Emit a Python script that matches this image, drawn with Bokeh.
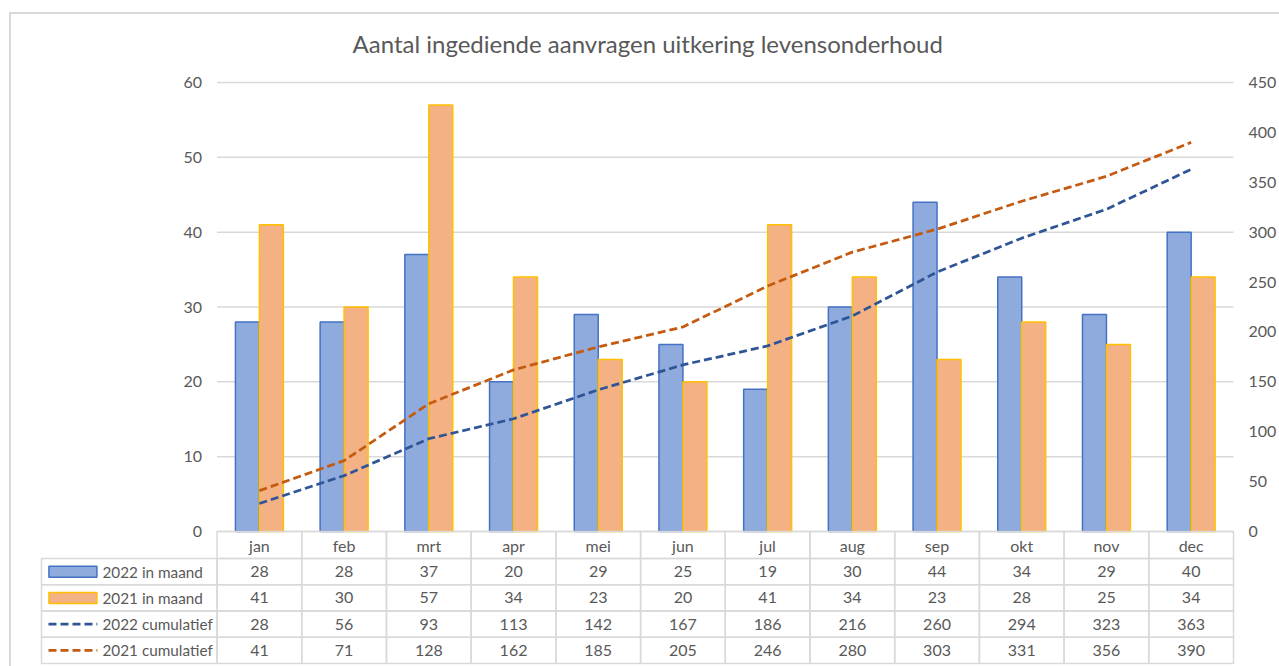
from bokeh.plotting import figure
from bokeh.models import Range1d, LinearAxis, FixedTicker, ColumnDataSource, InlineStyleSheet
from bokeh.transform import dodge
from bokeh.embed import file_html
from bokeh.resources import INLINE
from bokeh.core.properties import value

# ---------------- data ----------------
months = ["jan", "feb", "mrt", "apr", "mei", "jun", "jul", "aug", "sep", "okt", "nov", "dec"]
maand_2022 = [28, 28, 37, 20, 29, 25, 19, 30, 44, 34, 29, 40]
maand_2021 = [41, 30, 57, 34, 23, 20, 41, 34, 23, 28, 25, 34]
cum_2022 = [28, 56, 93, 113, 142, 167, 186, 216, 260, 294, 323, 363]
cum_2021 = [41, 71, 128, 162, 185, 205, 246, 280, 303, 331, 356, 390]
series_names = ["2022 in maand", "2021 in maand", "2022 cumulatief", "2021 cumulatief"]
left_ticks = [0, 10, 20, 30, 40, 50, 60]
right_ticks = [0, 50, 100, 150, 200, 250, 300, 350, 400, 450]
title_text = "Aantal ingediende aanvragen uitkering levensonderhoud"

# ---------------- style / layout (pixels) ----------------
FONT = "Lato"
TXT = "#595959"
GRID = "#D9D9D9"
BLUE_FILL, BLUE_LINE = "#8FAADC", "#4472C4"
ORANGE_FILL, ORANGE_LINE = "#F4B183", "#FFC000"
BLUE_DASH, ORANGE_DASH = "#2F5597", "#C55A11"
DASH = "8 4"
DASH_W = 2.75

W, H = 1279, 666
PAD = 2                     # frame padding so edge lines are not clipped
PAD_TOP = 14                # room above y=60 for the top tick label
TABLE_LEFT = 41             # table left edge (px)
PLOT_L, PLOT_R = 217, 1236  # plot area left/right (px)
PLOT_T = 82                 # y=60 line (px)
PLOT_PX = 449               # height of 0..60
HEADER_PX = 27
ROW_PX = 26.25
TABLE_PX = HEADER_PX + 4 * ROW_PX

n = len(months)
PXU = (PLOT_R - PLOT_L) / n              # px per category
LC = (PLOT_L - TABLE_LEFT) / PXU         # label column width (data units)
U = 60.0 / PLOT_PX                       # left-axis units per px
UR = 450.0 / PLOT_PX                     # right-axis units per px

centers = [i + 0.5 for i in range(n)]
BAR_W = 0.283
BAR_OFF = 0.1415

x_lo = -LC - PAD / PXU
x_hi = n + PAD / PXU
y_lo = -(TABLE_PX + PAD) * U
y_hi = 60 + PAD_TOP * U

p = figure(width=W, height=H,
           x_range=Range1d(x_lo, x_hi), y_range=Range1d(y_lo, y_hi),
           x_axis_type=None, y_axis_type=None,
           min_border_left=TABLE_LEFT - PAD, min_border_right=W - PLOT_R - PAD,
           min_border_top=PLOT_T - PAD_TOP,
           min_border_bottom=int(round(H - (PLOT_T + PLOT_PX + TABLE_PX + PAD))),
           outline_line_color=None, output_backend="svg", toolbar_location=None)
p.extra_y_ranges = {"right": Range1d(-(TABLE_PX + PAD) * UR, 450 + PAD_TOP * UR)}

# outer chart border (top and left edges visible in the crop)
p.stylesheets = [InlineStyleSheet(css=(
    ":host { position: relative; }"
    ":host::after { content: ''; position: absolute; left: 9px; top: 12px; "
    "right: 0; bottom: 0; border-left: 2px solid #D9D9D9; "
    "border-top: 2px solid #D9D9D9; pointer-events: none; }"))]

p.title.text = title_text
p.title.text_font = FONT
p.title.text_font_size = "24px"
p.title.text_font_style = "normal"
p.title.text_color = TXT
p.title.align = "left"
p.title.offset = 352 - (TABLE_LEFT - PAD)
p.title.standoff = 21


def style_axis(ax, standoff):
    ax.axis_line_color = None
    ax.major_tick_line_color = None
    ax.minor_tick_line_color = None
    ax.major_tick_out = 0
    ax.major_tick_in = 0
    ax.minor_tick_out = 0
    ax.minor_tick_in = 0
    ax.major_label_text_font = FONT
    ax.major_label_text_font_size = "16px"
    ax.major_label_text_color = TXT
    ax.major_label_standoff = standoff


yl = LinearAxis(ticker=FixedTicker(ticks=left_ticks), fixed_location=0)
style_axis(yl, 15)
p.add_layout(yl, "left")

yr = LinearAxis(ticker=FixedTicker(ticks=right_ticks), y_range_name="right")
style_axis(yr, 13)
p.add_layout(yr, "right")

# horizontal gridlines over the plot area (from the left tick values)
p.segment(x0=[0] * len(left_ticks), x1=[n] * len(left_ticks),
          y0=left_ticks, y1=left_ticks, line_color=GRID, line_width=1.5)

src = ColumnDataSource(dict(x=centers, m22=maand_2022, m21=maand_2021,
                            c22=cum_2022, c21=cum_2021))
p.vbar(x=dodge("x", -BAR_OFF), top="m22", width=BAR_W, source=src,
       fill_color=BLUE_FILL, line_color=BLUE_LINE, line_width=1.5)
p.vbar(x=dodge("x", BAR_OFF), top="m21", width=BAR_W, source=src,
       fill_color=ORANGE_FILL, line_color=ORANGE_LINE, line_width=1.5)
p.line(x="x", y="c22", source=src, y_range_name="right",
       line_color=BLUE_DASH, line_width=DASH_W, line_dash=DASH)
p.line(x="x", y="c21", source=src, y_range_name="right",
       line_color=ORANGE_DASH, line_width=DASH_W, line_dash=DASH)

# ---------------- data table ----------------
head_y = -HEADER_PX / 2 * U
row_y = [-(HEADER_PX + ROW_PX * (r + 0.5)) * U for r in range(4)]

# header cells with month names
p.rect(x=centers, y=[head_y] * n, width=1.0, height=HEADER_PX * U,
       fill_color=None, line_color=GRID, line_width=1.5)
p.text(x=centers, y=[head_y] * n, text=months, text_align="center",
       text_baseline="middle", text_font=value(FONT), text_font_size="16px",
       text_color=TXT)

rows = [maand_2022, maand_2021, cum_2022, cum_2021]
cx, cy, cw, tx, ty, tv = [], [], [], [], [], []
for r, vals in enumerate(rows):
    yc = row_y[r]
    cx.append(-LC / 2); cy.append(yc); cw.append(LC)
    for i, v in enumerate(vals):
        cx.append(centers[i]); cy.append(yc); cw.append(1.0)
        tx.append(centers[i]); ty.append(yc); tv.append(str(v))
p.rect(x=cx, y=cy, width=cw, height=ROW_PX * U, fill_color=None,
       line_color=GRID, line_width=1.5)
p.text(x=tx, y=ty, text=tv, text_align="center", text_baseline="middle",
       text_font=value(FONT), text_font_size="16px", text_color=TXT)

p.text(x=[-LC] * 4, y=row_y, text=series_names, x_offset=61,
       text_align="left", text_baseline="middle",
       text_font=value(FONT), text_font_size="15.3px", text_color=TXT)

key_c = -LC + 31.5 / PXU
p.rect(x=[key_c, key_c], y=row_y[:2], width=48, height=11,
       width_units="screen", height_units="screen",
       fill_color=[BLUE_FILL, ORANGE_FILL], line_color=[BLUE_LINE, ORANGE_LINE],
       line_width=1.5)
p.segment(x0=[-LC + 7 / PXU] * 2, x1=[-LC + 56 / PXU] * 2, y0=row_y[2:], y1=row_y[2:],
          line_color=[BLUE_DASH, ORANGE_DASH], line_width=DASH_W, line_dash=DASH)

open("out.html", "w").write(file_html(p, INLINE))
